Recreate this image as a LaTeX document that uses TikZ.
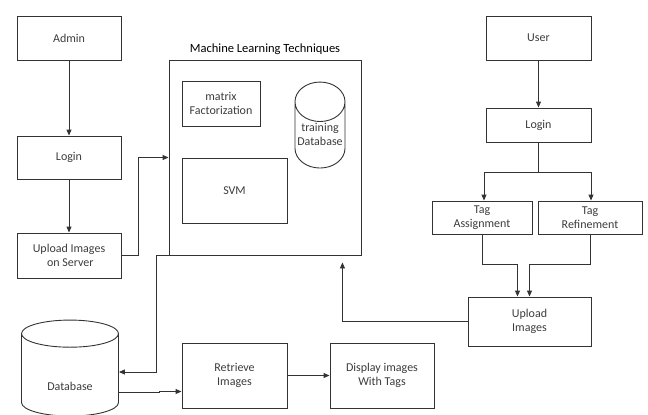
\documentclass[tikz,border=0pt]{standalone}
\usepackage{fontspec}
\setmainfont{Carlito}
\usetikzlibrary{arrows.meta, calc, positioning, shapes.geometric}
\definecolor{dInk}{HTML}{333333}
\definecolor{dText}{HTML}{3C3C3C}

\begin{document}
\begin{tikzpicture}[x=1pt, y=-1pt, >={Triangle[length=6pt, width=5pt]},
  box/.style={draw=dInk, line width=0.9pt, align=center, text=dText,
              font=\fontsize{12}{14.5}\selectfont, inner sep=2pt},
  dbase/.style={box, cylinder, shape border rotate=90},
  link/.style={draw=dInk, line width=0.9pt, ->}]
  \useasboundingbox (0,0) rectangle (648,415);
  % admin side
  \node[box, minimum width=104pt, minimum height=44pt] (admin) at (69,38) {Admin};
  \node[box, minimum width=104pt, minimum height=43pt] (loginA) at (69,157.5) {Login};
  \node[box, minimum width=104pt, minimum height=45pt] (uploadS) at (69,255.5) {Upload Images\\ \ on Server};
  % machine learning block
  \node[draw=dInk, line width=0.9pt, minimum width=192pt, minimum height=195pt] (ml) at (265,157.5) {};
  \node[font=\fontsize{12.5}{14}\selectfont, text=black, inner sep=2pt] (mltitle) [above=3pt of ml] {Machine Learning Techniques};
  \node[box, minimum width=78pt, minimum height=45pt] (matrix) at (221,103.5) {matrix\\Factorization};
  \node[box, minimum width=105pt, minimum height=65pt] (svm) at (234.5,190.5) {SVM};
  \node[dbase, aspect=0.8, minimum width=50pt, minimum height=86pt] (trainDB) at (320,139)
    {\raisebox{-6pt}[0pt][0pt]{\shortstack{training\\Database}}};
  % storage and retrieval
  \node[dbase, aspect=0.55, minimum width=97pt, minimum height=96pt] (db) at (70,377)
    {\raisebox{-13pt}[0pt][0pt]{Database}};
  \node[box, minimum width=105pt, minimum height=65pt] (retrieve) at (234.5,375.5) {Retrieve\\Images};
  \node[box, minimum width=104pt, minimum height=65pt] (display) at (382,375.5) {Display images\\With Tags};
  % user side
  \node[box, minimum width=105pt, minimum height=44pt] (user) at (538.5,38) {User};
  \node[box, minimum width=105pt, minimum height=34pt] (loginU) at (538.5,125) {Login};
  \node[box, minimum width=100pt, minimum height=33pt] (tagA) at (482,217.5) {Tag\\Assignment};
  \node[box, minimum width=104pt, minimum height=33pt] (tagR) at (590,217.5) {Tag\\Refinement};
  \node[box, minimum width=123pt, minimum height=49pt] (uploadU) at (529.5,321.5) {Upload\\Images};
  % connectors
  \draw[link] (admin) -- (loginA);
  \draw[link] (loginA) -- (uploadS);
  \draw[link] (uploadS.east) -- ++(17,0) |- (ml.west);
  \draw[link] (ml.south west) -- ++(-12,0) |- ([yshift=5pt]db.east);
  \draw[link] ([yshift=-15pt]db.east) -- ++(40,0) |- ([yshift=-16pt]retrieve.west);
  \draw[link] (retrieve) -- (display);
  \draw[link] (user) -- (loginU);
  \draw[dInk, line width=0.9pt] (loginU.south) -- ++(0,30) coordinate (split);
  \draw[link] (split) -| ([xshift=2pt]tagA.north);
  \draw[link] (split) -| ([xshift=1pt]tagR.north);
  \draw[link] (tagA.south) -- ++(0,30) -| ([xshift=-12pt]uploadU.north);
  \draw[link] (tagR.south) -- ++(0,30) -| (uploadU.north);
  \draw[link] (uploadU.west) -| ($(ml.south east)+(-19,7)$);
\end{tikzpicture}
\end{document}
